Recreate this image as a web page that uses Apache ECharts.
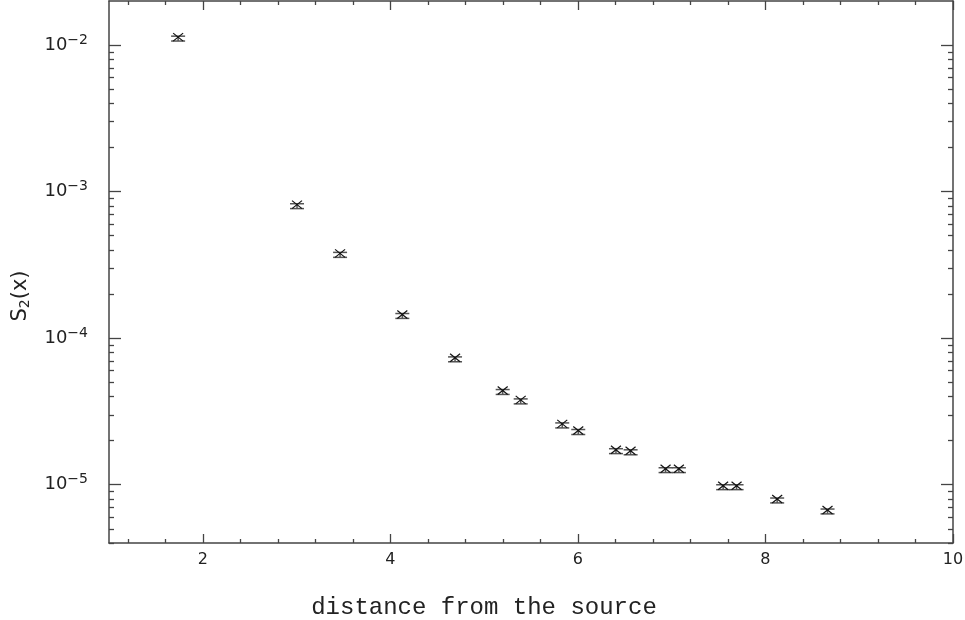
<!DOCTYPE html>
<html>
<head>
<meta charset="utf-8">
<script src="https://cdn.jsdelivr.net/npm/echarts@6/dist/echarts.min.js"></script>
<style>html,body{margin:0;padding:0;background:#fff;}#c{width:965px;height:620px;}</style>
</head>
<body>
<div id="c"></div>
<script>
// Data
const xVals = [1.737, 3.005, 3.464, 4.128, 4.690, 5.198, 5.390, 5.833, 6.004, 6.406, 6.562, 6.935, 7.077, 7.549, 7.692, 8.125, 8.662];
const yVals = [0.01134, 8.15e-4, 3.79e-4, 1.451e-4, 7.34e-5, 4.39e-5, 3.79e-5, 2.60e-5, 2.34e-5, 1.734e-5, 1.707e-5, 1.286e-5, 1.286e-5, 9.84e-6, 9.84e-6, 7.99e-6, 6.72e-6];
const yLow = [0.01066, 7.66e-4, 3.56e-4, 1.364e-4, 6.90e-5, 4.13e-5, 3.56e-5, 2.44e-5, 2.20e-5, 1.63e-5, 1.60e-5, 1.21e-5, 1.21e-5, 9.25e-6, 9.25e-6, 7.51e-6, 6.32e-6];
const yHigh = [0.01151, 8.27e-4, 3.85e-4, 1.473e-4, 7.45e-5, 4.46e-5, 3.85e-5, 2.64e-5, 2.38e-5, 1.76e-5, 1.73e-5, 1.305e-5, 1.305e-5, 9.99e-6, 9.99e-6, 8.11e-6, 6.82e-6];
const xTickLabels = [2, 4, 6, 8, 10];
const yTickLabels = [1e-5, 1e-4, 1e-3, 1e-2];

const xMin = 1, xMax = 10, yMin = 4e-6, yMax = 0.02;

// minor tick positions
const xMinor = [];
for (let i = 3; i < 25; i++) { const v = +(i * 0.4).toFixed(2); if (v > xMin && v < xMax && Math.abs(v / 2 - Math.round(v / 2)) > 1e-6) xMinor.push(v); }
const yMinor = [];
for (let d = -6; d <= -2; d++) for (let k = 2; k <= 9; k++) { const v = Number((k * Math.pow(10, d)).toPrecision(3)); if (v >= yMin && v < yMax) yMinor.push(v); }

const lineCol = '#444';
const font = 'DejaVu Sans';

function xAx(pos, major, labels) {
  return {
    type: 'value', min: xMin, max: xMax, position: pos,
    axisLine: { show: major, lineStyle: { color: lineCol, width: 1.5 } },
    axisTick: { show: true, inside: true, length: major ? 9 : 4, customValues: major ? xTickLabels : xMinor, lineStyle: { color: lineCol, width: 1.3 } },
    axisLabel: labels ? { show: true, customValues: xTickLabels, fontFamily: font, fontSize: 16, color: '#222', margin: 9 } : { show: false },
    splitLine: { show: false }
  };
}
function yAx(pos, major, labels) {
  return {
    type: 'log', logBase: 10, min: yMin, max: yMax, position: pos,
    axisLine: { show: major, lineStyle: { color: lineCol, width: 1.5 } },
    axisTick: { show: true, inside: true, length: major ? 12 : 5, customValues: major ? yTickLabels : yMinor, lineStyle: { color: lineCol, width: 1.3 } },
    axisLabel: labels ? {
      show: true, customValues: yTickLabels, margin: 21,
      formatter: function (v) { const e = Math.round(Math.log10(v)); return '{b|10}{s|' + (e < 0 ? '\u2212' : '') + Math.abs(e) + '}'; },
      rich: {
        b: { fontFamily: font, fontSize: 18, color: '#222' },
        s: { fontFamily: font, fontSize: 14, color: '#222', padding: [0, 0, 10, 0] }
      }
    } : { show: false },
    splitLine: { show: false }
  };
}

const xAxes = [xAx('bottom', true, true), xAx('bottom', false, false), xAx('top', true, false), xAx('top', false, false)];
xAxes[0].name = 'distance from the source';
xAxes[0].nameLocation = 'middle';
xAxes[0].nameGap = 53;
xAxes[0].nameTextStyle = { fontFamily: 'Liberation Mono', fontSize: 24, color: '#222', padding: [0, 94, 0, 0] };

const yAxes = [yAx('left', true, true), yAx('left', false, false), yAx('right', true, false), yAx('right', false, false)];
yAxes[0].name = '{n|S}{sub|2}{n|(x)}';
yAxes[0].nameLocation = 'middle';
yAxes[0].nameRotate = 90;
yAxes[0].nameGap = 77;
yAxes[0].nameTextStyle = {
  padding: [0, 48, 0, 0],
  rich: {
    n: { fontFamily: font, fontSize: 21, color: '#222' },
    sub: { fontFamily: font, fontSize: 14, color: '#222', padding: [8, 0, 0, 0] }
  }
};

const data = xVals.map((x, i) => [x, yVals[i], yLow[i], yHigh[i]]);

const chart = echarts.init(document.getElementById('c'));
chart.setOption({
  animation: false,
  backgroundColor: '#fff',
  grid: { left: 109, right: 12, top: 1, bottom: 77, containLabel: false, outerBoundsMode: 'none' },
  xAxis: xAxes,
  yAxis: yAxes,
  series: [{
    type: 'custom',
    xAxisIndex: 0, yAxisIndex: 0,
    data: data,
    encode: { x: 0, y: 1 },
    renderItem: function (params, api) {
      const x = api.value(0), y = api.value(1), lo = api.value(2), hi = api.value(3);
      const c = api.coord([x, y]), l = api.coord([x, lo]), h = api.coord([x, hi]);
      const cw = 7, mx = 5, my = 4;
      const capStyle = { stroke: '#555', lineWidth: 1.5 };
      const mStyle = { stroke: '#111', lineWidth: 1.2 };
      return {
        type: 'group',
        children: [
          { type: 'line', shape: { x1: c[0] - cw, y1: l[1], x2: c[0] + cw, y2: l[1] }, style: capStyle },
          { type: 'line', shape: { x1: c[0] - cw, y1: h[1], x2: c[0] + cw, y2: h[1] }, style: capStyle },
          { type: 'line', shape: { x1: c[0], y1: h[1], x2: c[0], y2: l[1] }, style: capStyle },
          { type: 'line', shape: { x1: c[0] - mx, y1: c[1] - my, x2: c[0] + mx, y2: c[1] + my }, style: mStyle },
          { type: 'line', shape: { x1: c[0] - mx, y1: c[1] + my, x2: c[0] + mx, y2: c[1] - my }, style: mStyle }
        ]
      };
    }
  }]
});
</script>
</body>
</html>
